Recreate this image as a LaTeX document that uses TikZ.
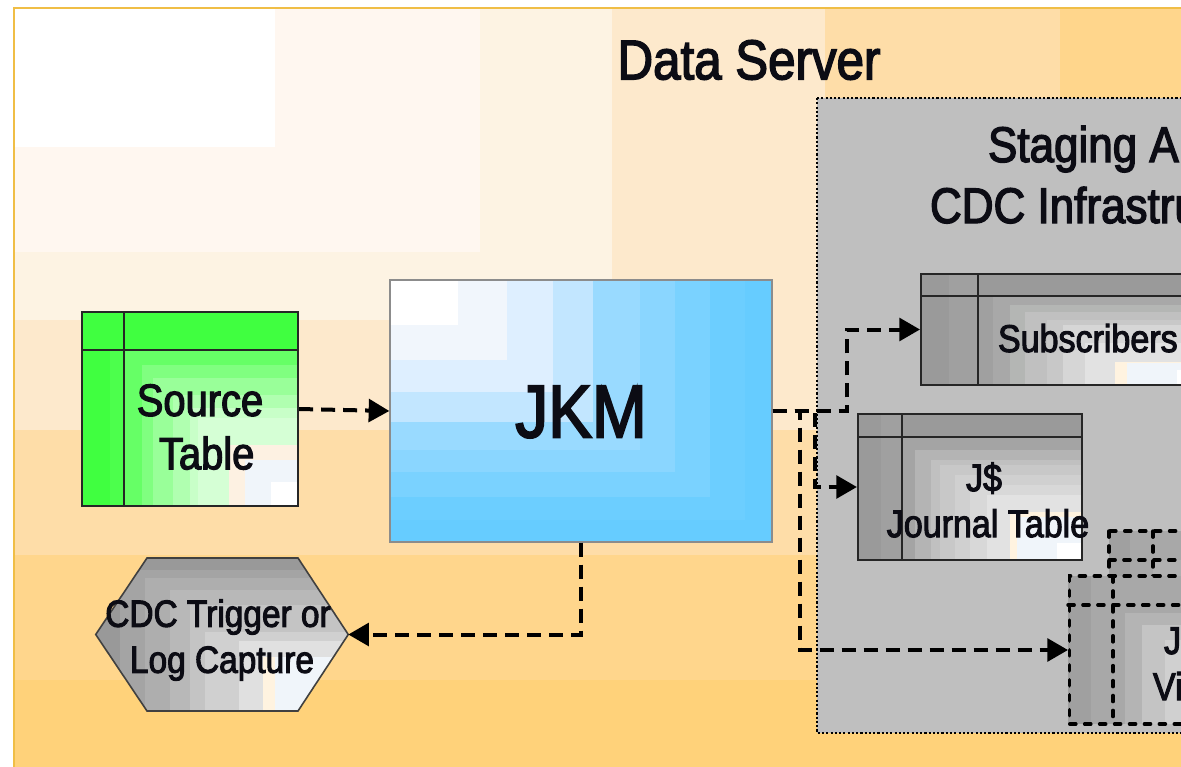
\documentclass[tikz,border=0pt]{standalone}
\usepackage{fontspec}
\setmainfont[FakeStretch=0.88,FakeBold=2.6]{Liberation Sans}
\usetikzlibrary{arrows.meta,calc}
\def\hx#1{\definecolor{tmpc}{HTML}{#1}}
% nested colour steps: each rectangle runs from (x,y) to the far corner (#1,#2)
\newcommand{\stepsto}[3]{\foreach \sx/\sy/\sc in {#3}{\expandafter\hx\expandafter{\sc}\fill[tmpc] (\sx,\sy) rectangle (#1,#2);}}
\tikzset{
  tline/.style={draw=#1,line width=1.6pt},
  dline/.style={draw=#1,line width=2.6pt,line cap=round,dash pattern=on 4.6pt off 6.6pt},
  conn/.style={draw=black,line width=3pt,dash pattern=on 10.5pt off 6pt,-{Triangle[length=15.5pt,width=17pt]}},
  lab/.style={text=txt,align=center,inner sep=0pt,outer sep=0pt},
  fbig/.style={font=\fontsize{37.5pt}{40pt}\selectfont},
  fmid/.style={font=\fontsize{34pt}{40pt}\selectfont},
  fsm/.style={font=\fontsize{29pt}{34.5pt}\selectfont}
}
\definecolor{txt}{HTML}{0C0C14}
\definecolor{ln}{HTML}{262626}
\begin{document}
\begin{tikzpicture}[x=0.75pt,y=-0.75pt]
\useasboundingbox (0,0) rectangle (1181,767);
\clip (0,0) rectangle (1181,767);
\fill[white] (0,0) rectangle (1181,767);
% --- background (steps from the top-left light corner)
\foreach \sx/\sy/\sc in {1240/800/FFD27A,1240/680/FFD68C,1060/555/FEDDA8,825/430/FDE9CC,612/320/FDF3E3,480/252/FFF7F0,275/147/FFFFFF}{
  \expandafter\hx\expandafter{\sc}\fill[tmpc] (14,8) rectangle (\sx,\sy);}
\draw[draw={rgb,255:red,240;green,190;blue,70},line width=1.3pt] (14,8) rectangle (1240,800);
\node[lab,font=\fontsize{42pt}{44pt}\selectfont] (title) at (749,60) {Data Server};
% --- staging area
\fill[black!25] (817,98) rectangle (1240,733);
\draw[draw=black,line width=2.2pt,dash pattern=on 1.6pt off 1.6pt] (817,98) -- (1240,98) (817,98) -- (817,733) -- (1240,733);
\node[lab,fbig,anchor=base west] (stag1) at (988,162) {Staging A};
\node[lab,fbig,anchor=base west] (stag2) at (930,223) {CDC Infrastru};
% --- source table
\stepsto{298}{506}{82/312/40FF40,110/338/4CFF4C,125/350/66FF66,142/365/80FF80,153/378/99FF99,173/395/B0FFB0,190/408/C8FFC8,198/418/D5FFD5,229/445/FDF1E2,245/460/F0F5FA,271/482/FFFFFF}
\definecolor{g1}{HTML}{40FF40}
\fill[g1] (82,312) rectangle (298,350);
\fill[g1] (82,350) rectangle (110,506);
\definecolor{g2}{HTML}{4CFF4C}
\fill[g2] (110,350) rectangle (124,506);
\node[draw=ln,line width=1.6pt,fill=none,minimum width=162pt,minimum height=145.5pt,inner sep=0pt] (src) at (190,409) {};
\draw[tline=ln] (124,312) -- (124,506) (82,350) -- (298,350);
\node[lab,fmid] (srct) at (200,427) {Source\\\hspace*{10pt}Table};
% --- JKM
\stepsto{772}{542}{390/280/66CCFF}
\foreach \sx/\sy/\sc in {745/520/6CCEFF,710/497/7AD2FF,675/472/8AD6FF,640/450/99DAFF,593/422/C2E6FF,553/392/DEEFFF,507/360/F1F6FC,458/325/FFFFFF}{
  \expandafter\hx\expandafter{\sc}\fill[tmpc] (390,280) rectangle (\sx,\sy);}
\node[draw=black!45,line width=1pt,fill=none,minimum width=286.5pt,minimum height=196.5pt,inner sep=0pt] (jkm) at (581,411) {};
\node[lab,font=\fontsize{56pt}{60pt}\selectfont] (jkmt) at (581,412) {JKM};
% --- hexagon
\begin{scope}
\clip (96,634) -- (147,558) -- (298,558) -- (348,634) -- (298,711) -- (147,711) -- cycle;
\stepsto{350}{712}{96/558/999999,120/570/A4A4A4,145/578/AEAEAE,170/590/B8B8B8,190/605/C4C4C4,205/632/D0D0D0,239/641/E0E0E0,263/657/FFF3E0,275/657/F0F5FA}
\end{scope}
\node[draw=none,minimum width=189pt,minimum height=115.5pt,inner sep=0pt] (hex) at (222,634.5) {};
\draw[draw=black!75,line width=1.2pt] (hex.west) -- (147,558) -- (298,558) -- (hex.east) -- (298,711) -- (147,711) -- cycle;
\node[lab,font=\fontsize{28.5pt}{34.5pt}\selectfont] (hext) at (218,640) {CDC Trigger or\\\hspace*{6pt}Log Capture};
% --- subscribers table
\stepsto{1240}{385}{920/274/999999,993/297/A8A8A8,1010/305/B4B6B4,1025/312/C0C0C0,1047/320/C8C8C8,1063/325/D6D6D6,1085/343/E2E2E2,1115/362/FFF3E0,1127/363/F0F5FA,1177/370/FFFFFF}
\definecolor{gy}{HTML}{9A9A9A}
\definecolor{gz}{HTML}{A0A0A0}
\fill[gy] (920,296) rectangle (978,385);
\fill[gy] (920,274) rectangle (1240,296);
\fill[gz] (949,274) rectangle (978,385);
\fill[gz] (978,296) rectangle (993,385);
\node[draw=ln,line width=1.6pt,minimum width=240pt,minimum height=83.25pt,inner sep=0pt,anchor=west] (subs) at (920,329.5) {};
\draw[tline=ln] (978,274) -- (978,385) (920,296) -- (1240,296);
\node[lab,fsm,anchor=base west] (subst) at (998,352) {Subscribers};
% --- journal table
\stepsto{1082}{560}{858/414/999999,902/437/A4A4A4,915/450/B4B4B4,931/460/C0C0C0,940/465/C8C8C8,955/475/D0D0D0,970/485/D8D8D8,987/495/E2E2E2,1010/512/FFF3E0,1017/517/F0F5FA,1057/543/FFFFFF}
\fill[gy] (858,437) rectangle (881,560);
\fill[gy] (858,414) rectangle (1082,437);
\fill[gz] (881,414) rectangle (902,560);
\node[draw=ln,line width=1.6pt,minimum width=168pt,minimum height=109.5pt,inner sep=0pt] (jrn) at (970,487) {};
\draw[tline=ln] (902,414) -- (902,560) (858,437) -- (1082,437);
\node[lab,fsm] (jrnt) at (988,500) {J\$\hspace*{6pt}\\Journal Table};
% --- view, rear box
\stepsto{1240}{620}{1109/531/A0A0A0,1130/531/A8A8A8,1153/560/B0B0B0}
\draw[dline=black] (1109,531) rectangle (1240,620) (1153,531) -- (1153,620) (1109,560) -- (1240,560);
% --- view, front box
\stepsto{1240}{724}{1068/576/A0A0A0,1091/576/A8A8A8,1125/613/B4B4B4,1142/625/C4C4C4,1165/640/D0D0D0}
\node[draw=black,line width=2.6pt,line cap=round,dash pattern=on 4.6pt off 6.6pt,minimum width=180pt,minimum height=111pt,inner sep=0pt,anchor=west] (view) at (1068,650) {};
\draw[dline=black] (1113,576) -- (1113,724) (1068,605) -- (1240,605);
\node[lab,fsm,anchor=base west] (view1) at (1164,654) {J};
\node[lab,fsm,anchor=base west] (view2) at (1153,700) {Vi};
% --- connectors
\coordinate (up) at (847,0);
\coordinate (mid) at (815,0);
\coordinate (low) at (800,0);
\draw[conn] (src.east) -- (jkm.west);
\draw[conn] (jkm.east) -| (up |- subs.west) -- (subs.west);
\draw[conn] (jkm.east) -| (mid |- jrn.west) -- (jrn.west);
\draw[conn] (jkm.east) -| (low |- view.west) -- (view.west);
\draw[conn] (jkm.south) |- (hex.east);
\end{tikzpicture}
\end{document}
